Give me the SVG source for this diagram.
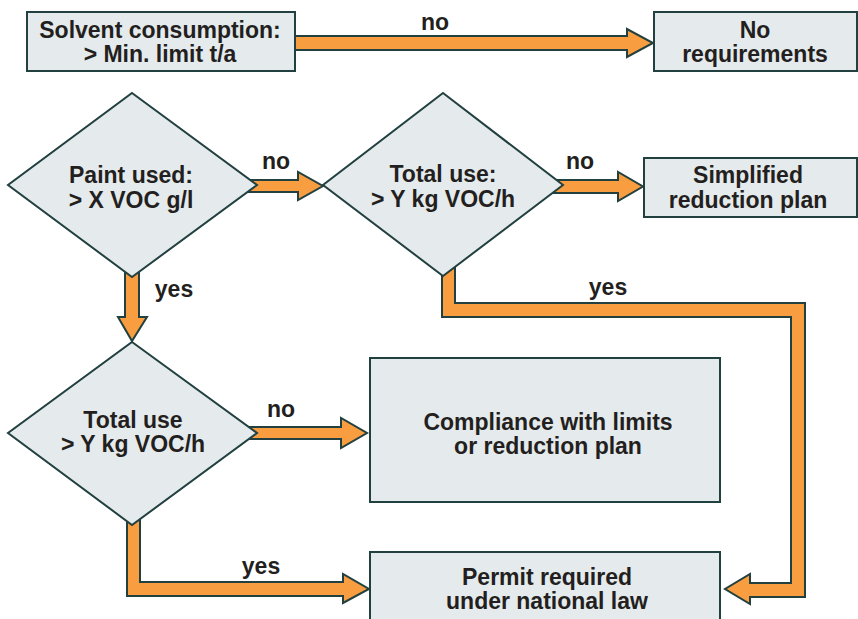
<svg xmlns="http://www.w3.org/2000/svg" width="858" height="619" viewBox="0 0 858 619">
<style>
.node{fill:#e5eaec;stroke:#21403f;stroke-width:2}
.arrow{fill:#f89d40;stroke:#21403f;stroke-width:2;stroke-linejoin:miter}
text{font-family:"Liberation Sans",Arial,sans-serif;font-weight:bold;font-size:23px;fill:#231f20;text-anchor:middle}
</style>
<rect width="858" height="619" fill="#ffffff"/>
<g id="connectors">
<polygon class="arrow" points="290,36 627,36 627,29 653,43 627,57 627,50 290,50"/>
<polygon class="arrow" points="245,180 298,180 298,172 323,186 298,200 298,192 245,192"/>
<polygon class="arrow" points="553,180 618,180 618,172 643,186.5 618,201 618,193 553,193"/>
<polygon class="arrow" points="125,268 125,317 118,317 132,341 147,317 139,317 139,268"/>
<polygon class="arrow" points="442,266 442,317 791,317 791,583 750,583 750,574 725,589 750,604 750,597 805,597 805,303 455,303 455,266"/>
<polygon class="arrow" points="127,515 127,596 343,596 343,603 369,589 343,574 343,582 140,582 140,515"/>
<polygon class="arrow" points="248,427 341,427 341,418 367,433 341,448 341,439 248,439"/>
<text x="435" y="30">no</text>
<text x="276" y="169">no</text>
<text x="580" y="169">no</text>
<text x="174" y="297">yes</text>
<text x="608" y="295">yes</text>
<text x="281" y="417">no</text>
<text x="261" y="574">yes</text>
</g>
<g id="solvent">
<rect class="node" x="27" y="12" width="268" height="59"/>
<text x="160" y="38">Solvent consumption:</text>
<text x="160" y="62">&gt; Min. limit t/a</text>
</g>
<g id="no-requirements">
<rect class="node" x="654" y="12" width="203" height="59"/>
<text x="755" y="38">No</text>
<text x="755" y="62">requirements</text>
</g>
<g id="paint-used">
<polygon class="node" points="132,93 257,185 132,277 8,185"/>
<text x="131" y="183">Paint used:</text>
<text x="131" y="208">&gt; X VOC g/l</text>
</g>
<g id="total-use-1">
<polygon class="node" points="443,93 563,185 443,276 323,185"/>
<text x="443" y="182">Total use:</text>
<text x="443" y="207">&gt; Y kg VOC/h</text>
</g>
<g id="simplified">
<rect class="node" x="644" y="158" width="213" height="59"/>
<text x="748" y="183">Simplified</text>
<text x="748" y="208">reduction plan</text>
</g>
<g id="total-use-2">
<polygon class="node" points="132,342 257,433 132,525 8,433"/>
<text x="133" y="428">Total use</text>
<text x="133" y="452">&gt; Y kg VOC/h</text>
</g>
<g id="compliance">
<rect class="node" x="370" y="358" width="350" height="144"/>
<text x="548" y="430">Compliance with limits</text>
<text x="548" y="454">or reduction plan</text>
</g>
<g id="permit">
<rect class="node" x="370" y="552" width="350" height="80"/>
<text x="547" y="585">Permit required</text>
<text x="547" y="609">under national law</text>
</g>
</svg>
